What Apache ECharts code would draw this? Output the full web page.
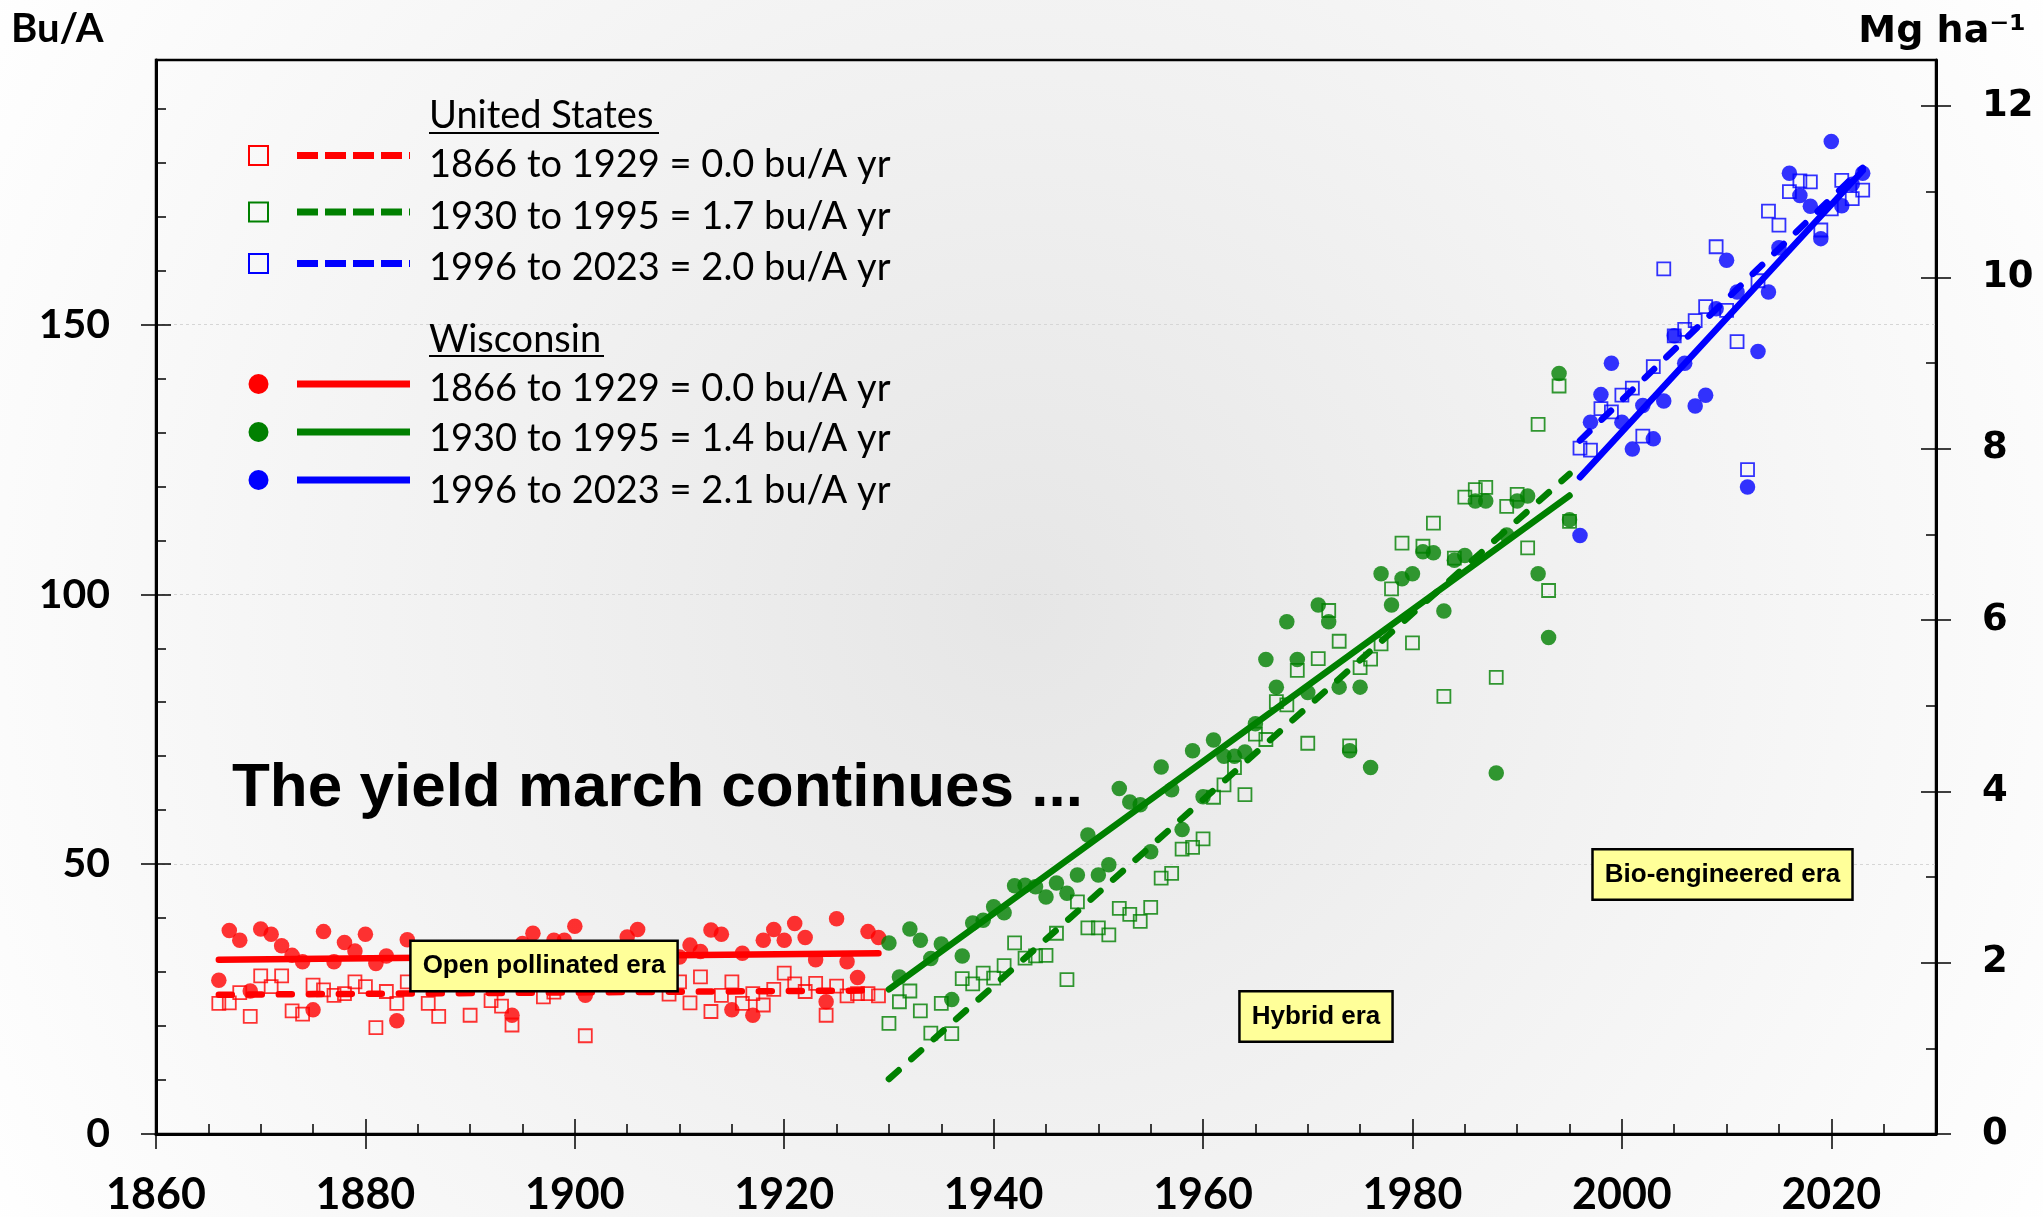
<!DOCTYPE html>
<html>
<head>
<meta charset="utf-8">
<script src="https://cdn.jsdelivr.net/npm/echarts@6/dist/echarts.min.js"></script>
<style>
html,body{margin:0;padding:0;background:#fff;}
#chart{width:2043px;height:1217px;}
</style>
</head>
<body>
<div id="chart"></div>
<script>
// ---------------- DATA ----------------
// United States yields, bu/A
const usStart1 = 1866;
const usEra1 = [24.2,24.3,26.2,21.8,29.3,27.3,29.3,22.8,22.2,27.6,26.7,25.7,26.0,28.2,27.3,19.7,26.4,24.2,28.2,
  29.0,24.2,21.8,28.5,29.5,22.0,29.0,24.7,23.7,20.2,28.8,30.0,25.4,26.3,28.5,29.0,
  18.2,29.5,28.5,29.0,30.0,31.0,28.5,28.0,25.9,
  28.2,24.3,29.1,22.7,25.7,28.2,24.2,26.0,23.9,26.8,
  29.8,27.8,26.4,27.9,22.0,27.4,25.6,26.0,26.0,25.6];
const usStart2 = 1930;
const usEra2 = [20.5,24.5,26.5,22.8,18.7,24.2,18.6,28.8,27.8,29.8,
  28.9,31.2,35.4,32.6,33.0,33.1,37.2,28.6,43.0,38.2,
  38.2,36.9,41.8,40.7,39.4,42.0,47.4,48.3,52.8,53.1,
  54.7,62.4,64.7,67.9,62.9,74.1,73.1,80.1,79.5,85.9,
  72.4,88.1,97.0,91.3,71.9,86.4,88.0,90.8,101.0,109.5,
  91.0,108.9,113.2,81.1,106.7,118.0,119.4,119.8,84.6,116.3,
  118.5,108.6,131.5,100.7,138.6,113.5];
const usStart3 = 1996;
const usEra3 = [127.1,126.7,134.4,133.8,136.9,138.2,129.3,142.2,160.3,147.9,
  149.1,150.7,153.3,164.4,152.6,146.8,123.1,158.1,171.0,168.4,
  174.6,176.6,176.4,167.5,171.4,176.7,173.3,174.9];

// Wisconsin yields, bu/A
const wiStart1 = 1866;
const wiEra1 = [28.5,37.7,35.9,26.5,38.0,37.0,34.9,33.1,31.9,23.0,37.5,31.9,35.5,33.9,37.0,31.6,33.0,21.0,36.0,
  31.0,33.0,30.0,34.0,32.0,30.0,33.0,31.0,32.0,
  22.0,35.3,37.2,32.0,35.9,35.9,38.5,
  25.7,33.0,30.0,34.0,36.5,37.9,32.0,31.0,33.0,
  32.8,35.0,33.8,37.8,37.0,23.0,33.5,22.0,35.9,37.9,
  35.9,39.0,36.4,32.3,24.5,39.9,31.9,29.0,37.5,36.4];
const wiStart2 = 1930;
const wiEra2 = [35.4,29.1,38.0,35.9,32.5,35.2,24.9,33.0,39.1,39.6,
  42.1,41.0,46.0,46.1,45.8,43.9,46.5,44.6,48.0,55.4,
  48.0,49.9,64.0,61.5,61.0,52.3,68.0,63.8,56.4,71.0,
  62.5,73.0,70.0,70.0,70.8,76.0,87.9,82.8,94.9,87.9,
  81.8,98.0,94.9,82.8,71.0,82.8,67.9,103.8,98.0,102.9,
  103.8,107.9,107.7,96.9,106.3,107.2,117.3,117.3,66.9,111.0,
  117.3,118.2,103.8,92.0,140.9,113.8];
const wiStart3 = 1996;
const wiEra3 = [110.9,131.9,137.0,142.8,131.9,126.9,135.0,128.8,135.8,147.9,
  142.8,134.9,136.9,152.9,161.9,156.0,119.9,145.0,156.0,164.2,
  178.0,173.9,171.9,165.9,183.9,172.0,176.0,178.0];

// Trend line end points [year, bu/A]
const usTrend1 = [[1866,25.8],[1929,26.6]];
const usTrend2 = [[1930,10.2],[1995,122.3]];
const usTrend3 = [[1996,128.5],[2023,179.0]];
const wiTrend1 = [[1866,32.3],[1929,33.5]];
const wiTrend2 = [[1930,26.8],[1995,118.3]];
const wiTrend3 = [[1996,121.7],[2023,178.5]];

// Ticks
const xMajorTicks = [1860,1880,1900,1920,1940,1960,1980,2000,2020];
const xMinorTicks = [1865,1870,1875,1885,1890,1895,1905,1910,1915,1925,1930,1935,1945,1950,1955,1965,1970,1975,1985,1990,1995,2005,2010,2015,2025];
const yMajorTicks = [0,50,100,150];
const yMinorTicks = [10,20,30,40,60,70,80,90,110,120,130,140,160,170,180,190];
const mgMajorTicks = [0,2,4,6,8,10,12];
const mgMinorTicks = [1,3,5,7,9,11];

// Legend / annotation texts
const usLegend = ['1866 to 1929 = 0.0 bu/A yr','1930 to 1995 = 1.7 bu/A yr','1996 to 2023 = 2.0 bu/A yr'];
const wiLegend = ['1866 to 1929 = 0.0 bu/A yr','1930 to 1995 = 1.4 bu/A yr','1996 to 2023 = 2.1 bu/A yr'];
const eraLabels = ['Open pollinated era','Hybrid era','Bio-engineered era'];

// ---------------- CHART ----------------
const RED = '#ff0000', GREEN = '#008000', BLUE = '#0000ff';
const colors = [RED, GREEN, BLUE];
function pts(start, vals){ return vals.map((v,i)=>[start+i, v]); }

const LATO = 'Lato, "Open Sans", sans-serif';
const ARIAL = '"Liberation Sans", Arial, sans-serif';
const VERD = '"DejaVu Sans", Verdana, sans-serif';

const tickStyle = {color:'#000', width:1.5};

function usScatter(data, c){
  return {type:'scatter', data:data, symbol:'rect', symbolSize:13, silent:true, z:2,
    itemStyle:{color:'rgba(0,0,0,0)', borderColor:c, borderWidth:1.8}};
}
function wiScatter(data, c){
  return {type:'scatter', data:data, symbol:'circle', symbolSize:15.5, silent:true, z:3,
    itemStyle:{color:c}};
}
function trend(data, c, dashed){
  return {type:'line', data:data, showSymbol:false, symbol:'none', silent:true, z:4,
    lineStyle:{color:c, width:6.5, type: dashed ? [13,17] : 'solid', cap:'round'}};
}
function plainNum(v){ return String(Math.round(v)); }

const graphics = [];
// Axis titles
graphics.push({type:'text', z:100, style:{text:'Bu/A', x:11, y:29, font:'bold 40px ' + LATO, fill:'#000', align:'left', verticalAlign:'middle', textAlign:'left', textVerticalAlign:'middle'}});
graphics.push({type:'text', z:100, style:{text:'Mg ha\u207B\u00B9', x:2026, y:32, font:'bold 38px ' + VERD, fill:'#000', align:'right', verticalAlign:'middle', textAlign:'right', textVerticalAlign:'middle'}});
// Big title
graphics.push({type:'text', z:100, style:{text:'The yield march continues ...', x:232, y:789, font:'bold 62px ' + ARIAL, fill:'#000', align:'left', verticalAlign:'middle', textAlign:'left', textVerticalAlign:'middle'}});

// Legend
const legendX = 429;
graphics.push({type:'text', z:100, style:{text:'United States', x:legendX, y:116, font:'38px ' + LATO, fill:'#000', align:'left', verticalAlign:'middle', textAlign:'left', textVerticalAlign:'middle'}});
graphics.push({type:'line', z:100, shape:{x1:legendX, y1:133, x2:659, y2:133}, style:{stroke:'#000', lineWidth:2}});
graphics.push({type:'text', z:100, style:{text:'Wisconsin', x:legendX, y:340, font:'38px ' + LATO, fill:'#000', align:'left', verticalAlign:'middle', textAlign:'left', textVerticalAlign:'middle'}});
graphics.push({type:'line', z:100, shape:{x1:legendX, y1:356, x2:604, y2:356}, style:{stroke:'#000', lineWidth:2}});
const usRowY = [155.5, 212, 263.5];
const usTextY = [165, 217, 268];
const wiRowY = [384, 432, 480];
const wiTextY = [389, 439, 491];
for (let i=0;i<3;i++){
  graphics.push({type:'rect', z:100, shape:{x:249, y:usRowY[i]-9.5, width:19, height:19}, style:{fill:'none', stroke:colors[i], lineWidth:2}});
  graphics.push({type:'line', z:100, shape:{x1:297, y1:usRowY[i], x2:410, y2:usRowY[i]}, style:{stroke:colors[i], lineWidth:7, lineDash:[21,7]}});
  graphics.push({type:'text', z:100, style:{text:usLegend[i], x:legendX, y:usTextY[i], font:'38px ' + LATO, fill:'#000', align:'left', verticalAlign:'middle', textAlign:'left', textVerticalAlign:'middle'}});
  graphics.push({type:'circle', z:100, shape:{cx:258.5, cy:wiRowY[i], r:10}, style:{fill:colors[i]}});
  graphics.push({type:'line', z:100, shape:{x1:297, y1:wiRowY[i], x2:410, y2:wiRowY[i]}, style:{stroke:colors[i], lineWidth:7}});
  graphics.push({type:'text', z:100, style:{text:wiLegend[i], x:legendX, y:wiTextY[i], font:'38px ' + LATO, fill:'#000', align:'left', verticalAlign:'middle', textAlign:'left', textVerticalAlign:'middle'}});
}
// Era boxes
const eraPos = [[544,966],[1316,1016.5],[1722.5,874.5]];
for (let i=0;i<3;i++){
  graphics.push({type:'text', z:110, style:{text:eraLabels[i], x:eraPos[i][0], y:eraPos[i][1], font:'bold 26px ' + ARIAL, fill:'#000',
    align:'center', verticalAlign:'middle', textAlign:'center', textVerticalAlign:'middle',
    backgroundColor:'#ffff99', borderColor:'#000', borderWidth:2.5, padding:[11,11,11,11]}});
}

const option = {
  animation:false,
  backgroundColor:{type:'radial', x:0.5, y:0.5, r:1.0, colorStops:[{offset:0,color:'#e6e6e6'},{offset:1,color:'#ffffff'}]},
  grid:{left:156, right:107, top:60, bottom:83, show:true, borderColor:'#000', borderWidth:2.5, backgroundColor:'rgba(0,0,0,0)'},
  xAxis:[
    {type:'value', min:1860, max:2030, interval:20, position:'bottom',
      axisLine:{show:true, onZero:false, lineStyle:{color:'#000', width:3}},
      axisTick:{show:true, inside:false, length:15, customValues:xMajorTicks, lineStyle:tickStyle},
      axisLabel:{show:true, margin:40, customValues:xMajorTicks, color:'#000', fontFamily:LATO, fontWeight:'bold', fontSize:43, formatter:plainNum},
      splitLine:{show:false}},
    {type:'value', min:1860, max:2030, interval:20, position:'bottom',
      axisLine:{show:false}, axisLabel:{show:false}, splitLine:{show:false},
      axisTick:{show:true, inside:true, length:15, customValues:xMajorTicks, lineStyle:tickStyle}},
    {type:'value', min:1860, max:2030, interval:20, position:'bottom',
      axisLine:{show:false}, axisLabel:{show:false}, splitLine:{show:false},
      axisTick:{show:true, inside:true, length:10, customValues:xMinorTicks, lineStyle:tickStyle}}
  ],
  yAxis:[
    {type:'value', min:0, max:199, interval:50, position:'left',
      axisLine:{show:true, onZero:false, lineStyle:{color:'#000', width:3}},
      axisTick:{show:true, inside:false, length:15, customValues:yMajorTicks, lineStyle:tickStyle},
      axisLabel:{show:true, margin:46, customValues:yMajorTicks, color:'#000', fontFamily:LATO, fontWeight:'bold', fontSize:41, formatter:plainNum},
      splitLine:{show:true, lineStyle:{color:'#d6d6d6', width:1, type:[3,3]}}},
    {type:'value', min:0, max:199, interval:50, position:'left',
      axisLine:{show:false}, axisLabel:{show:false}, splitLine:{show:false},
      axisTick:{show:true, inside:true, length:15, customValues:yMajorTicks, lineStyle:tickStyle}},
    {type:'value', min:0, max:199, interval:50, position:'left',
      axisLine:{show:false}, axisLabel:{show:false}, splitLine:{show:false},
      axisTick:{show:true, inside:true, length:10, customValues:yMinorTicks, lineStyle:tickStyle}},
    {type:'value', min:0, max:12.54, interval:2, position:'right',
      axisLine:{show:true, onZero:false, lineStyle:{color:'#000', width:3}},
      axisTick:{show:true, inside:false, length:15, customValues:mgMajorTicks, lineStyle:tickStyle},
      axisLabel:{show:true, margin:46, customValues:mgMajorTicks, color:'#000', fontFamily:VERD, fontWeight:'bold', fontSize:37, formatter:plainNum},
      splitLine:{show:false}},
    {type:'value', min:0, max:12.54, interval:2, position:'right',
      axisLine:{show:false}, axisLabel:{show:false}, splitLine:{show:false},
      axisTick:{show:true, inside:true, length:15, customValues:mgMajorTicks, lineStyle:tickStyle}},
    {type:'value', min:0, max:12.54, interval:2, position:'right',
      axisLine:{show:false}, axisLabel:{show:false}, splitLine:{show:false},
      axisTick:{show:true, inside:true, length:10, customValues:mgMinorTicks, lineStyle:tickStyle}}
  ],
  series:[
    usScatter(pts(usStart1, usEra1), RED),
    usScatter(pts(usStart2, usEra2), GREEN),
    usScatter(pts(usStart3, usEra3), BLUE),
    wiScatter(pts(wiStart1, wiEra1), RED),
    wiScatter(pts(wiStart2, wiEra2), GREEN),
    wiScatter(pts(wiStart3, wiEra3), BLUE),
    trend(usTrend1, RED, true),
    trend(usTrend2, GREEN, true),
    trend(usTrend3, BLUE, true),
    trend(wiTrend1, RED, false),
    trend(wiTrend2, GREEN, false),
    trend(wiTrend3, BLUE, false)
  ],
  graphic:graphics
};

const chart = echarts.init(document.getElementById('chart'), null, {renderer:'canvas', width:2043, height:1217});
chart.setOption(option);
</script>
</body>
</html>
